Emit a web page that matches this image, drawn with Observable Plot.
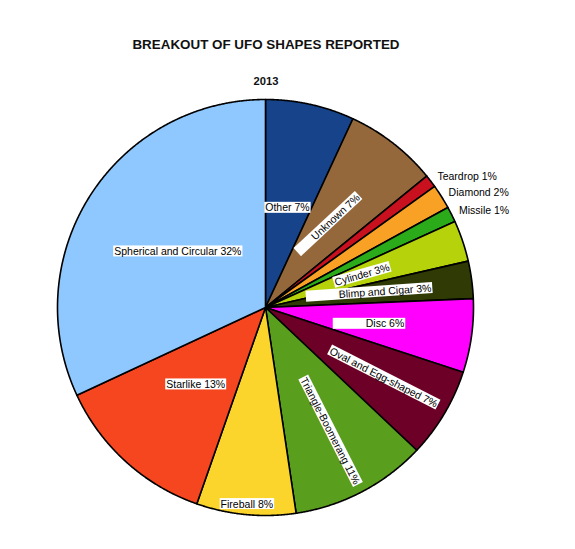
<!DOCTYPE html>
<html><head><meta charset="utf-8">
<script src="https://cdn.jsdelivr.net/npm/d3@7"></script>
<script src="https://cdn.jsdelivr.net/npm/@observablehq/plot@0.6"></script>
<style>body{margin:0;background:#fff;}</style>
</head><body><div id="chart"></div>
<script>
// ---- data ----
const shapes = ["Other","Unknown","Teardrop","Diamond","Missile","Cylinder","Blimp and Cigar","Disc","Oval and Egg-shaped","Triangle-Boomerang","Fireball","Starlike","Spherical and Circular"];
const shares = [6.9, 7.2, 1.0, 1.9, 1.2, 3.2, 2.9, 5.7, 7.0, 10.6, 7.7, 12.7, 31.9];
const shownPct = [7, 7, 1, 2, 1, 3, 3, 6, 7, 11, 8, 13, 32];
const colors = ["#16438a","#94683a","#c8101e","#f8a124","#2bab1a","#b6d20a","#2f3a05","#ff00ff","#6c0027","#5a9e1e","#fbd42c","#f5461f","#8ec8ff"];
const title = "BREAKOUT OF UFO SHAPES REPORTED";
const subtitle = "2013";

// ---- label layout (radius as fraction of pie radius, rotation in degrees) ----
const labelLayout = {
  "Other": {r: 0.49, mode: "flat"},
  "Unknown": {r: 0.55, mode: "rot", rot: -43, ext: 20},
  "Teardrop": {r: 1.04, mode: "outside"},
  "Diamond": {r: 1.04, mode: "outside"},
  "Missile": {r: 1.04, mode: "outside"},
  "Cylinder": {r: 0.49, mode: "rot", rot: -16},
  "Blimp and Cigar": {r: 0.58, mode: "rot", rot: -4, ext: 32},
  "Disc": {r: 0.58, mode: "flat", ext: 32},
  "Oval and Egg-shaped": {r: 0.66, mode: "rot", rot: 27},
  "Triangle-Boomerang": {r: 0.67, mode: "rot", rot: 63},
  "Fireball": {r: 0.95, mode: "flat"},
  "Starlike": {r: 0.50, mode: "flat"},
  "Spherical and Circular": {r: 0.50, mode: "flat"}
};

const total = d3.sum(shares);
const slices = [];
let acc = 0;
shapes.forEach((name, i) => {
  const a0 = acc / total * 2 * Math.PI;
  acc += shares[i];
  const a1 = acc / total * 2 * Math.PI;
  slices.push({name, color: colors[i], a0, a1, label: `${name} ${shownPct[i]}%`});
});

// polygon vertices for each slice (center -> arc -> center)
const pts = [];
for (const s of slices) {
  pts.push({name: s.name, color: s.color, x: 0, y: 0});
  const n = Math.max(2, Math.ceil((s.a1 - s.a0) / (Math.PI / 720)));
  for (let k = 0; k <= n; k++) {
    const a = s.a0 + (s.a1 - s.a0) * k / n;
    pts.push({name: s.name, color: s.color, x: Math.sin(a), y: Math.cos(a)});
  }
  pts.push({name: s.name, color: s.color, x: 0, y: 0});
}

const labels = slices.map(s => {
  const L = labelLayout[s.name];
  const m = (s.a0 + s.a1) / 2;
  return {
    ...s, mode: L.mode, ext: L.ext || 0,
    x: L.r * Math.sin(m), y: L.r * Math.cos(m),
    rotate: L.mode === "rot" ? L.rot : 0
  };
});
const inner = labels.filter(d => d.mode !== "outside");
const outer = labels.filter(d => d.mode === "outside");

const font = "'Liberation Sans', Arial, Helvetica, sans-serif";

const svg = Plot.plot({
  width: 575,
  height: 549,
  margin: 0,
  style: {fontFamily: font, background: "#fff"},
  x: {domain: [-1, 1], range: [57, 473], axis: null},
  y: {domain: [-1, 1], range: [515, 99], axis: null},
  color: {type: "identity"},
  marks: [
    Plot.line(pts, {x: "x", y: "y", z: "name", fill: "color", stroke: "#000", strokeWidth: 1.6, strokeLinejoin: "round"}),
    Plot.text(inner, {
      x: "x", y: "y", text: "label", rotate: "rotate",
      fontSize: 10.5, fill: "#000"
    }),
    Plot.text(outer, {
      x: "x", y: "y", text: "label", textAnchor: "start",
      fontSize: 10.5, fill: "#000"
    }),
    Plot.text([title], {frameAnchor: "top", dx: -22, dy: 39, fontSize: 13.4, fontWeight: "bold", fill: "#111"}),
    Plot.text([subtitle], {frameAnchor: "top", dx: -22, dy: 77, fontSize: 11.2, fontWeight: "bold", fill: "#111"})
  ]
});
document.getElementById("chart").appendChild(svg);

// white boxes behind the in-slice labels
const byText = new Map(inner.map(d => [d.label, d]));
Array.from(svg.querySelectorAll("text")).forEach(t => {
  const d = byText.get(t.textContent.trim());
  if (!d) return;
  const b = t.getBBox();
  const ext = d.ext;
  const r = document.createElementNS("http://www.w3.org/2000/svg", "rect");
  r.setAttribute("x", b.x - 1 - ext);
  r.setAttribute("y", b.y + 0.5);
  r.setAttribute("width", b.width + 2 + ext);
  r.setAttribute("height", Math.max(0, b.height - 1));
  r.setAttribute("fill", "#fff");
  r.setAttribute("stroke", "none");
  const tr = t.getAttribute("transform");
  if (tr) r.setAttribute("transform", tr);
  t.parentNode.insertBefore(r, t);
});
</script>
</body></html>
